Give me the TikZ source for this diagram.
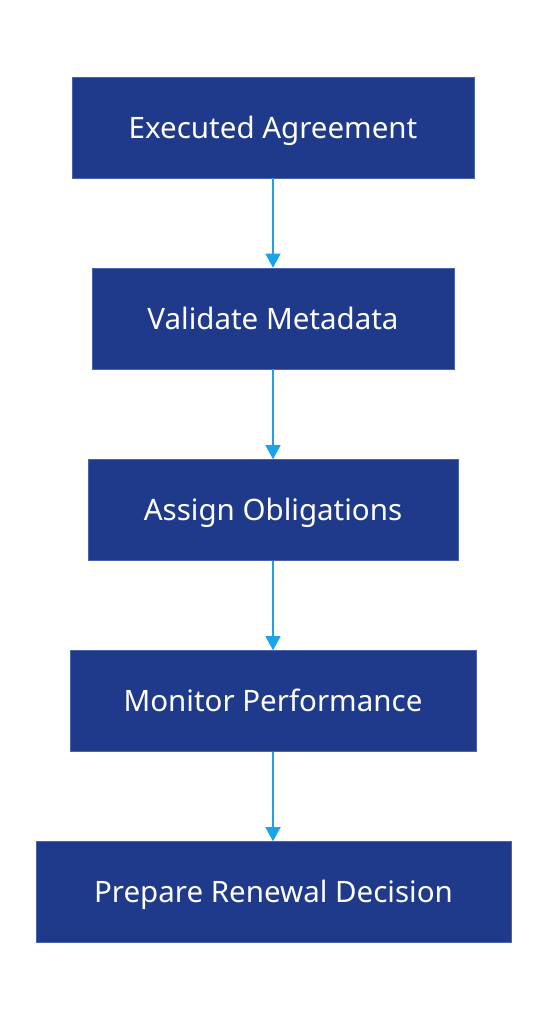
\documentclass[tikz,border=0pt]{standalone}
\usepackage{fontspec}
\setmainfont{Noto Sans}
\usetikzlibrary{arrows.meta}
\definecolor{boxblue}{HTML}{1F3A8A}
\definecolor{boxedge}{HTML}{4A63AE}
\definecolor{arrowblue}{HTML}{1AA3E8}
\begin{document}
\begin{tikzpicture}[x=1pt,y=-1pt,
  stepbox/.style={draw=boxedge, line width=0.6pt, fill=boxblue, text=white, minimum height=101pt, inner sep=0pt, text height=21pt, text depth=0pt, font=\fontsize{29.5}{34}\selectfont},
  flow/.style={draw=arrowblue, line width=1.4pt, -{Triangle[length=14pt,width=15pt]}}]
\useasboundingbox (0,0) rectangle (546,1020);
\node[stepbox, minimum width=402pt] (a) at (273,127.5) {Executed Agreement};
\node[stepbox, minimum width=362pt] (b) at (273,318.5) {Validate Metadata};
\node[stepbox, minimum width=370pt] (c) at (273,510) {Assign Obligations};
\node[stepbox, minimum width=406pt] (d) at (273,701) {Monitor Performance};
\node[stepbox, minimum width=475pt] (e) at (273.5,892) {Prepare Renewal Decision};
\draw[flow] (a.south) -- (b.north);
\draw[flow] (b.south) -- (c.north);
\draw[flow] (c.south) -- (d.north);
\draw[flow] (d.south) -- (e.north -| d.south);
\end{tikzpicture}
\end{document}
